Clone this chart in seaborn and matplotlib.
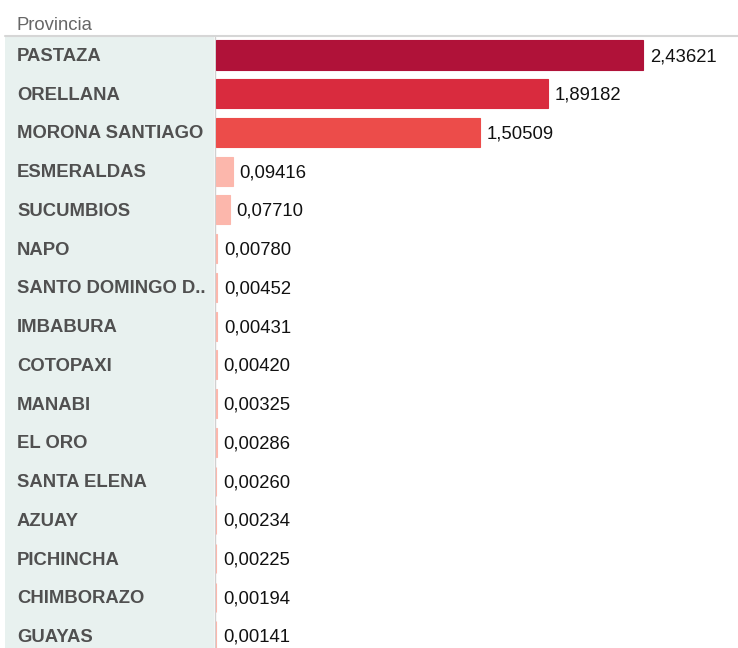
import matplotlib
matplotlib.use("Agg")
import matplotlib.pyplot as plt
import matplotlib.transforms as mtransforms
from matplotlib.patches import Rectangle
from matplotlib.lines import Line2D
import seaborn as sns
import pandas as pd

provinces = ["PASTAZA", "ORELLANA", "MORONA SANTIAGO", "ESMERALDAS", "SUCUMBIOS",
             "NAPO", "SANTO DOMINGO D..", "IMBABURA", "COTOPAXI", "MANABI",
             "EL ORO", "SANTA ELENA", "AZUAY", "PICHINCHA", "CHIMBORAZO", "GUAYAS"]
values = [2.43621, 1.89182, 1.50509, 0.09416, 0.07710,
          0.00780, 0.00452, 0.00431, 0.00420, 0.00325,
          0.00286, 0.00260, 0.00234, 0.00225, 0.00194, 0.00141]
header = "Provincia"

bar_colors = ["#b01239", "#d92b3e", "#ec4c4a"] + ["#fcb7ac"] * 13

df = pd.DataFrame({"Provincia": provinces, "Valor": values})

sns.set_theme(style="white")
plt.rcParams["font.family"] = ["Liberation Sans", "DejaVu Sans"]

W, H = 738, 648
fig = plt.figure(figsize=(W / 100, H / 100), dpi=100)
fig.patch.set_facecolor("white")

# left label panel
fig.patches.append(Rectangle((5 / W, 0), (214 - 5) / W, (H - 37) / H,
                             transform=fig.transFigure, facecolor="#e8f1ef",
                             edgecolor="none", zorder=-5))
fig.lines.append(Line2D([5 / W, 1], [1 - 36 / H, 1 - 36 / H], transform=fig.transFigure,
                        color="#d6d6d6", lw=1.5, zorder=-4))
fig.text(16 / W, 1 - 25 / H, header, color="#666666", fontsize=13.3, va="center", ha="left")

x0 = 216
scale = 175.3  # px per unit
ax = fig.add_axes([x0 / W, 0, (W - x0) / W, (H - 37) / H])
ax.set_facecolor("none")
sns.barplot(data=df, x="Valor", y="Provincia", hue="Provincia", palette=bar_colors,
            orient="h", width=0.75, legend=False, ax=ax, saturation=1)
for p in ax.patches:
    p.set_edgecolor(p.get_facecolor())
    p.set_linewidth(0.8)
ax.set_xlim(0, (W - x0) / scale)
ax.set_ylim(15.31, -0.465)
for s in ax.spines.values():
    s.set_visible(False)
ax.set_xticks([])
ax.set_yticks([])
ax.set_xlabel("")
ax.set_ylabel("")

val_trans = mtransforms.offset_copy(ax.transData, fig=fig, x=7, y=-1.5, units="dots")
for i, v in enumerate(values):
    ax.text(v, i, f"{v:.5f}".replace(".", ","), transform=val_trans, ha="left",
            va="center", fontsize=13.3, color="#111111", clip_on=False)

# vertical separator
fig.lines.append(Line2D([215 / W, 215 / W], [0, 1 - 37 / H], transform=fig.transFigure,
                        color="#d0d0d0", lw=1, zorder=-3))

trans = mtransforms.blended_transform_factory(fig.transFigure, ax.transData)
lab_trans = mtransforms.offset_copy(trans, fig=fig, x=0, y=-1.5, units="dots")
for i, p in enumerate(provinces):
    ax.text(17 / W, i, p, transform=lab_trans, ha="left", va="center",
            fontsize=13.3, fontweight="bold", color="#505050", clip_on=False)

fig.savefig("out.png", dpi=100)
